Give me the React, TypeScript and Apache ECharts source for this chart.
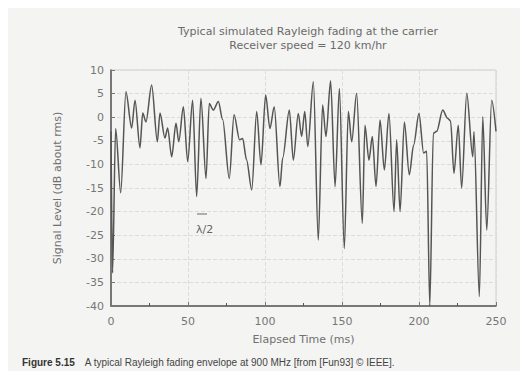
import React, { useEffect, useRef } from "react";
import * as echarts from "echarts";

const times = [
  0, 1, 3, 6.3, 9.7, 13.4, 15.6, 18.8, 20.6, 22.7, 26.4, 30.1, 31.8, 35, 36.8, 39.4,
  42.2, 44, 47, 49.8, 53, 55.6, 58.4, 61.7, 63.8, 66.4, 69.7, 72.5, 76.8, 79.9, 83.5,
  85.5, 88, 91.4, 94.6, 97.4, 100.4, 103.2, 106, 109.7, 111.5, 115.8, 118.4, 121.6,
  123.8, 125.8, 127.8, 131.4, 134.6, 137.4, 139.6, 142.6, 145.5, 148.3, 151.5, 154.1,
  156.3, 159.5, 163.2, 164.9, 167.5, 169.7, 172.1, 174.7, 177.5, 180.5, 183.8, 185.5,
  187.7, 190.5, 193.7, 196.5, 200, 203, 205, 207, 209.3, 211.5, 215.4, 218.5, 220.5,
  222.7, 225.5, 227.7, 231, 234.9, 235.7, 239.2, 241.4, 244, 247.2, 250,
];
const levels = [
  -3, -33, -2.4, -16, 5.4, -2.3, 3.6, -6.5, 0.9, -1, 6.8, -5.2, 0.9, -4.4, -2.3, -8.4,
  -1.3, -5.2, 2.2, -9.4, 3.6, -16.8, 4, -13, 2.9, 1.5, 3.3, -0.5, -13, 0.5, -4.8,
  -4.5, -9, -15.4, 1.2, -10.1, 4.7, -2.4, 2.2, -14.7, -8.6, 1.5, -9.1, 0.8,
  -4.1, 1.2, -6.2, 7.5, -26, 2.6, -4.1, 7.7, -14.7, 6.1, -27.8, 1.2,
  -5.2, 5.1, -22.5, -1.7, -9.1, -4.1, -14.7, -0.6, -11.2, 0.8, -20, -4.8,
  -20, -1, -12.2, -5.9, 0.8, -7.6, -7.2, -40, -3.4, -3, 1.5, -0.2, -0.8,
  -11.9, -1.7, -15, 5.1, -8.4, -3.1, -38, 0.1, -23.9, 3.6, -3,
];

const titleLines = ["Typical simulated Rayleigh fading at the carrier", "Receiver speed = 120 km/hr"];
const xLabel = "Elapsed Time (ms)";
const yLabel = "Signal Level (dB about rms)";
const captionBold = "Figure 5.15";
const captionText = "A typical Rayleigh fading envelope at 900 MHz [from [Fun93] © IEEE].";

export default function App() {
  const ref = useRef<HTMLDivElement>(null);
  useEffect(() => {
    if (!ref.current) return;
    const chart = echarts.init(ref.current, null, { renderer: "svg" });
    const data = times.map((t, i) => [t, levels[i]]);
    chart.setOption({
      animation: false,
      backgroundColor: "#f4f4f2",
      textStyle: { fontFamily: "DejaVu Sans" },
      title: {
        text: titleLines.join("\n"),
        left: 303,
        top: 19,
        textAlign: "center",
        textStyle: { fontSize: 11, fontWeight: "normal", color: "#6a6a6a", lineHeight: 14, fontFamily: "DejaVu Sans" },
      },
      grid: { left: 111, right: 32, top: 70, bottom: 73 },
      xAxis: {
        type: "value",
        min: 0,
        max: 250,
        interval: 50,
        name: xLabel,
        nameLocation: "middle",
        nameGap: 28,
        nameTextStyle: { color: "#707070", fontSize: 11 },
        axisLine: { show: true, onZero: false, lineStyle: { color: "#555", width: 1.5 } },
        axisTick: { show: true, inside: true, length: 4, lineStyle: { color: "#777" } },
        minorTick: { show: true, splitNumber: 2, length: 3 },
        axisLabel: { color: "#777", fontSize: 11, margin: 10 },
        splitLine: { show: true, lineStyle: { color: "#dcdcda", type: "dashed", width: 1 } },
      },
      yAxis: {
        type: "value",
        min: -40,
        max: 10,
        interval: 5,
        name: yLabel,
        nameLocation: "middle",
        nameGap: 48,
        nameTextStyle: { color: "#707070", fontSize: 11 },
        axisLine: { show: true, onZero: false, lineStyle: { color: "#555", width: 1.5 } },
        axisTick: { show: true, inside: true, length: 4, lineStyle: { color: "#777" } },
        axisLabel: { color: "#777", fontSize: 11, margin: 7 },
        splitLine: { show: true, lineStyle: { color: "#dcdcda", type: "dashed", width: 1 } },
      },
      series: [
        {
          type: "line",
          data,
          symbol: "none",
          smooth: 0.3,
          smoothMonotone: "x",
          lineStyle: { color: "#555555", width: 1.5 },
        },
      ],
      graphic: [
        {
          type: "rect",
          shape: { x: 111, y: 70, width: 385, height: 236 },
          style: { fill: "none", stroke: "#cfcfcd", lineWidth: 1 },
          silent: true,
        },
        {
          type: "line",
          shape: { x1: 197, y1: 214, x2: 207, y2: 214 },
          style: { stroke: "#666", lineWidth: 1 },
        },
        {
          type: "text",
          x: 196,
          y: 224,
          style: { text: "λ/2", fill: "#666", fontSize: 11, fontFamily: "DejaVu Sans" },
        },
        {
          type: "text",
          x: 22,
          y: 356,
          style: {
            text: "{b|" + captionBold + "}   {r|" + captionText + "}",
            rich: {
              b: { fontWeight: "bold", fontSize: 10, fill: "#333", fontFamily: "Liberation Sans" },
              r: { fontSize: 10, fill: "#444", fontFamily: "Liberation Sans" },
            },
          },
        },
      ],
    });
    return () => chart.dispose();
  }, []);
  return <div ref={ref} style={{ width: 528, height: 379, margin: -8 }} />;
}
